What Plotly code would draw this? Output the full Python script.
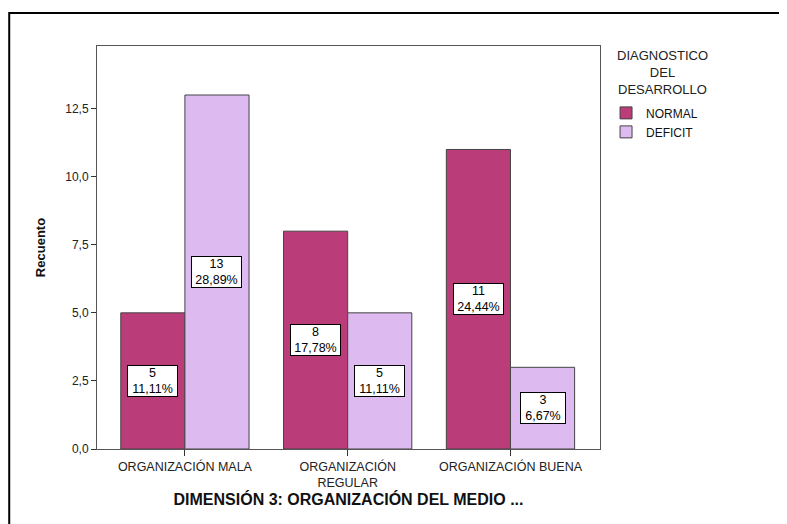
import plotly.graph_objects as go

categories = ["ORGANIZACIÓN MALA", "ORGANIZACIÓN<br>REGULAR", "ORGANIZACIÓN BUENA"]
series_names = ["NORMAL", "DEFICIT"]
normal_counts = [5, 8, 11]
deficit_counts = [13, 5, 3]
normal_pct = ["11,11%", "17,78%", "24,44%"]
deficit_pct = ["28,89%", "11,11%", "6,67%"]
y_ticks = [0, 2.5, 5, 7.5, 10, 12.5]
legend_title = "DIAGNOSTICO<br>DEL<br>DESARROLLO"

colors = ["#BA3D7A", "#DDBAF0"]
font_family = "Liberation Sans, Arial, sans-serif"

fig = go.Figure()
for name, vals, col in zip(series_names, [normal_counts, deficit_counts], colors):
    fig.add_trace(go.Bar(
        name=name, x=categories, y=vals,
        marker=dict(color=col, line=dict(color="#444444", width=1)),
    ))

# value labels (centered in bars)
offsets = [-0.197, 0.197]
for si, (vals, pcts) in enumerate([(normal_counts, normal_pct), (deficit_counts, deficit_pct)]):
    for ci, (v, p) in enumerate(zip(vals, pcts)):
        fig.add_annotation(
            x=ci + offsets[si], y=v / 2, xref="x", yref="y",
            text=f"{v}<br>{p}", showarrow=False,
            font=dict(size=12.5, color="black", family=font_family),
            bgcolor="white", bordercolor="black", borderwidth=1, borderpad=0,
            align="center", width=49 if len(p) > 5 else 44,
        )

# legend title (centered multi-line)
fig.add_annotation(
    x=1.125, y=1.0, xref="paper", yref="paper",
    xanchor="center", yanchor="top",
    text=legend_title, showarrow=False, align="center",
    font=dict(size=13, color="#222222", family=font_family),
)

# outer frame
fig.add_shape(type="rect", xref="paper", yref="paper",
              x0=-0.1745, y0=-0.5, x1=1.6, y1=1.082,
              line=dict(color="black", width=2), fillcolor="rgba(0,0,0,0)", layer="above")

fig.update_layout(
    width=787, height=524,
    margin=dict(l=89, r=195, t=38, b=83),
    paper_bgcolor="white", plot_bgcolor="white",
    separators=",.",
    barmode="group", bargap=0.212, bargroupgap=0,
    font=dict(family=font_family, size=12, color="#222222"),
    showlegend=True,
    legend=dict(x=1.012, y=0.87, xanchor="left", yanchor="top",
                font=dict(size=12, color="#111111", family=font_family),
                tracegroupgap=0, itemwidth=30, bgcolor="rgba(0,0,0,0)",
                traceorder="normal"),
    xaxis=dict(
        range=[-0.54, 2.55], showline=True, linecolor="#555555", mirror=True,
        ticks="outside", ticklen=6, tickcolor="#333333",
        tickfont=dict(size=12.5, color="#222222"),
        title=dict(text="<b>DIMENSIÓN 3: ORGANIZACIÓN DEL MEDIO ...</b>",
                   font=dict(size=16, color="#111111"), standoff=4),
    ),
    yaxis=dict(
        range=[0, 14.8], tickvals=y_ticks, tickformat=".1f",
        showline=True, linecolor="#555555", mirror=True, showgrid=False, zeroline=False,
        ticks="outside", ticklen=5, tickcolor="#333333",
        tickfont=dict(size=12, color="#222222"),
        title=dict(text="<b>Recuento</b>", font=dict(size=13, color="#111111"), standoff=16),
    ),
)

fig.write_html("out.html")
